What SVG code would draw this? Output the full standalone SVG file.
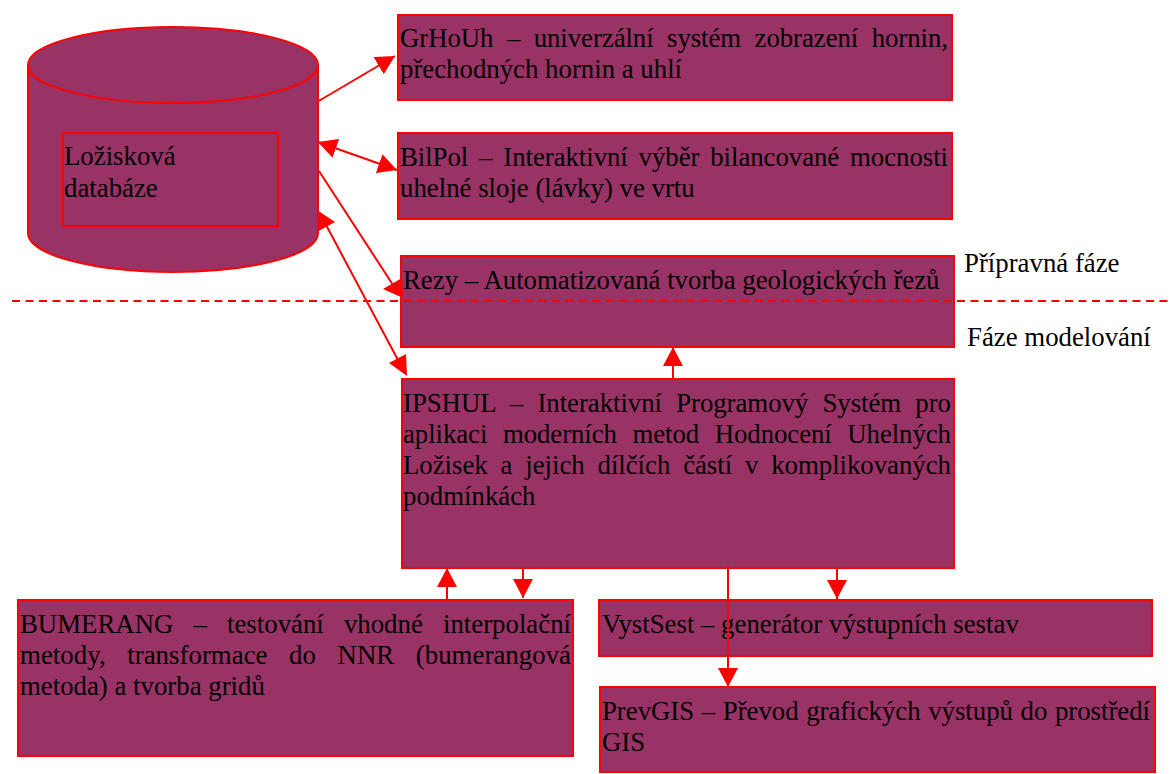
<svg xmlns="http://www.w3.org/2000/svg" width="1172" height="774" viewBox="0 0 1172 774">
<style>
.box{fill:#993366;stroke:#ff0000;stroke-width:2}
.frame{fill:none;stroke:#ff0000;stroke-width:2}
.t{font-family:"Liberation Serif","Times New Roman",serif;font-size:26.8px;fill:#000}
.c{stroke:#ff0000;stroke-width:2;fill:none}
.h{fill:#ff0000;stroke:none}
.dash{stroke:#ff0000;stroke-width:2;stroke-dasharray:8 5.5;fill:none}
</style>
<defs>
<marker id="ah" markerUnits="userSpaceOnUse" markerWidth="20" markerHeight="20" refX="19" refY="10" orient="auto-start-reverse">
<path d="M0,0 L19,10 L0,20 Z" fill="#ff0000"/>
</marker>
</defs>
<rect width="1172" height="774" fill="#ffffff"/>

<g id="db">
<path class="box" d="M28,65 V233 A145,39 0 0 0 318,233 V65 Z"/>
<ellipse class="box" cx="173" cy="65" rx="145" ry="38"/>
<rect class="frame" x="63" y="133" width="215" height="93"/>
<text class="t" x="64" y="165">Ložisková</text>
<text class="t" x="64" y="197">databáze</text>
</g>

<g id="grhouh">
<rect class="box" x="398" y="15" width="554" height="85"/>
<text class="t" x="400" y="47" textLength="548" lengthAdjust="spacing" word-spacing="6.8">GrHoUh – univerzální systém zobrazení hornin,</text>
<text class="t" x="400" y="78">přechodných hornin a uhlí</text>
</g>

<g id="bilpol">
<rect class="box" x="398" y="133" width="554" height="86"/>
<text class="t" x="400" y="166" textLength="548" lengthAdjust="spacing" word-spacing="4.2">BilPol – Interaktivní výběr bilancované mocnosti</text>
<text class="t" x="400" y="197">uhelné sloje (lávky) ve vrtu</text>
</g>

<g id="rezy">
<rect class="box" x="401" y="256" width="553" height="91"/>
<text class="t" x="403" y="289">Rezy – Automatizovaná tvorba geologických řezů</text>
</g>

<g id="phase">
<line class="dash" x1="12" y1="301" x2="1172" y2="301"/>
<text class="t" x="964" y="272">Přípravná fáze</text>
<text class="t" x="967" y="346">Fáze modelování</text>
</g>

<g id="ipshul">
<rect class="box" x="402" y="379" width="552" height="189"/>
<text class="t" x="403" y="412" textLength="548" lengthAdjust="spacing" word-spacing="7.6">IPSHUL – Interaktivní Programový Systém pro</text>
<text class="t" x="403" y="443" textLength="548" lengthAdjust="spacing" word-spacing="9">aplikaci moderních metod Hodnocení Uhelných</text>
<text class="t" x="403" y="474" textLength="548" lengthAdjust="spacing" word-spacing="6.2">Ložisek a jejich dílčích částí v komplikovaných</text>
<text class="t" x="403" y="505">podmínkách</text>
</g>

<g id="bumerang">
<rect class="box" x="18" y="600" width="555" height="156"/>
<text class="t" x="20" y="633" textLength="551" lengthAdjust="spacing" word-spacing="13.4">BUMERANG – testování vhodné interpolační</text>
<text class="t" x="20" y="664" textLength="551" lengthAdjust="spacing" word-spacing="14.8">metody, transformace do NNR (bumerangová</text>
<text class="t" x="20" y="695">metoda) a tvorba gridů</text>
</g>

<g id="vystsest">
<rect class="box" x="599" y="600" width="553" height="56"/>
<text class="t" x="602" y="633">VystSest – generátor výstupních sestav</text>
</g>

<g id="prevgis">
<rect class="box" x="600" y="687" width="555" height="85"/>
<text class="t" x="602" y="720" textLength="548" lengthAdjust="spacing" word-spacing="1">PrevGIS – Převod grafických výstupů do prostředí</text>
<text class="t" x="602" y="751">GIS</text>
</g>

<g id="connectors">
<line class="c" x1="317" y1="102" x2="395" y2="56" marker-end="url(#ah)"/>
<line class="c" x1="318" y1="142" x2="397" y2="170" marker-start="url(#ah)" marker-end="url(#ah)"/>
<line class="c" x1="319" y1="171" x2="393" y2="285"/>
<polygon class="h" points="383,289 402,278 403,298"/>
<line class="c" x1="325" y1="223" x2="398" y2="360"/>
<polygon class="h" points="317,210 335,222 317,232"/>
<polygon class="h" points="389,363 406,354 407,376"/>
<line class="c" x1="673" y1="379" x2="673" y2="347" marker-end="url(#ah)"/>
<line class="c" x1="447" y1="600" x2="447" y2="568" marker-end="url(#ah)"/>
<line class="c" x1="523" y1="568" x2="523" y2="598" marker-end="url(#ah)"/>
<line class="c" x1="837" y1="568" x2="837" y2="599" marker-end="url(#ah)"/>
<line class="c" x1="728" y1="565" x2="728" y2="687" marker-end="url(#ah)"/>
</g>
</svg>
